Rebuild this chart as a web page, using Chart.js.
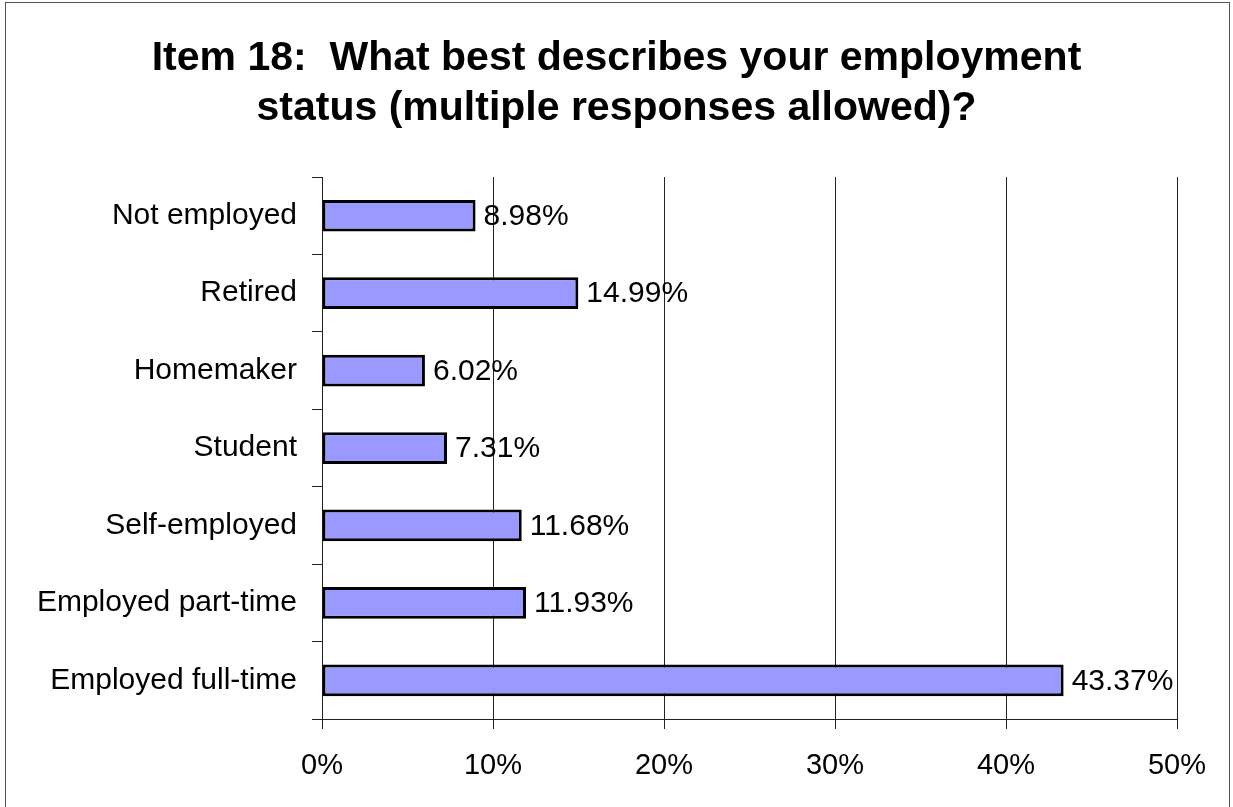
<!DOCTYPE html>
<html>
<head>
<meta charset="utf-8">
<script src="https://cdn.jsdelivr.net/npm/chart.js@4.4.1/dist/chart.umd.min.js"></script>
<style>
    html, body { margin: 0; padding: 0; background: #fff; }
    #wrap { position: relative; width: 1233px; height: 807px; overflow: hidden; }
    #frame { position: absolute; left: 5px; top: 2px; width: 1225px; height: 900px; border: 1px solid #555; box-sizing: border-box; }
    canvas { position: absolute; left: 0; top: 0; }
</style>
</head>
<body>
<div id="wrap">
    <div id="frame"></div>
    <canvas id="employmentChart" width="1233" height="807"></canvas>
</div>
<script>
const titleLines = ['Item 18:  What best describes your employment', 'status (multiple responses allowed)?'];
const categories = ['Not employed', 'Retired', 'Homemaker', 'Student', 'Self-employed', 'Employed part-time', 'Employed full-time'];
const percents = [8.98, 14.99, 6.02, 7.31, 11.68, 11.93, 43.37];
const xTicks = [0, 10, 20, 30, 40, 50];

const font = 'Arial, "Liberation Sans", sans-serif';

// value labels to the right of each bar
const barLabels = {
    id: 'barLabels',
    afterDatasetsDraw(chart) {
        const ctx = chart.ctx;
        const meta = chart.getDatasetMeta(0);
        ctx.save();
        ctx.font = '30px ' + font;
        ctx.fillStyle = '#000';
        ctx.textAlign = 'left';
        ctx.textBaseline = 'middle';
        meta.data.forEach((bar, i) => {
            ctx.fillText(percents[i].toFixed(2) + '%', bar.x + 8, bar.y + 1);
        });
        ctx.restore();
    }
};

// center the title over the whole canvas, not just the padded area
const centerTitle = {
    id: 'centerTitle',
    afterLayout(chart) {
        const t = chart.titleBlock;
        if (t) {
            t.left = 0;
            t.right = chart.width;
            t.width = chart.width;
        }
    }
};

const ctx = document.getElementById('employmentChart').getContext('2d');
new Chart(ctx, {
    type: 'bar',
    data: {
        labels: categories,
        datasets: [{
            data: percents,
            backgroundColor: '#9999ff',
            borderColor: '#000',
            borderWidth: 3,
            borderSkipped: false,
            barPercentage: 0.41,
            categoryPercentage: 1
        }]
    },
    options: {
        indexAxis: 'y',
        responsive: false,
        animation: false,
        layout: { padding: { left: 0, right: 56, top: 0, bottom: 0 } },
        plugins: {
            legend: { display: false },
            tooltip: { enabled: false },
            title: {
                display: true,
                text: titleLines,
                color: '#000',
                font: { family: font, size: 41, weight: 'bold', lineHeight: 1.22 },
                padding: { top: 34, bottom: 43 }
            }
        },
        scales: {
            x: {
                min: 0,
                max: 50,
                afterBuildTicks: scale => { scale.ticks = xTicks.map(v => ({ value: v })); },
                afterFit: scale => { scale.height = 88; },
                ticks: {
                    color: '#000',
                    font: { family: font, size: 29 },
                    padding: 20,
                    callback: v => v + '%'
                },
                grid: { color: '#222', lineWidth: 1, tickLength: 10 },
                border: { color: '#222', width: 1 }
            },
            y: {
                afterFit: scale => { scale.width = 322; },
                ticks: {
                    color: '#000',
                    font: { family: font, size: 30 },
                    padding: 15
                },
                grid: { color: '#222', lineWidth: 1, drawOnChartArea: false, tickLength: 10 },
                border: { color: '#222', width: 1 }
            }
        }
    },
    plugins: [barLabels, centerTitle]
});
</script>
</body>
</html>
